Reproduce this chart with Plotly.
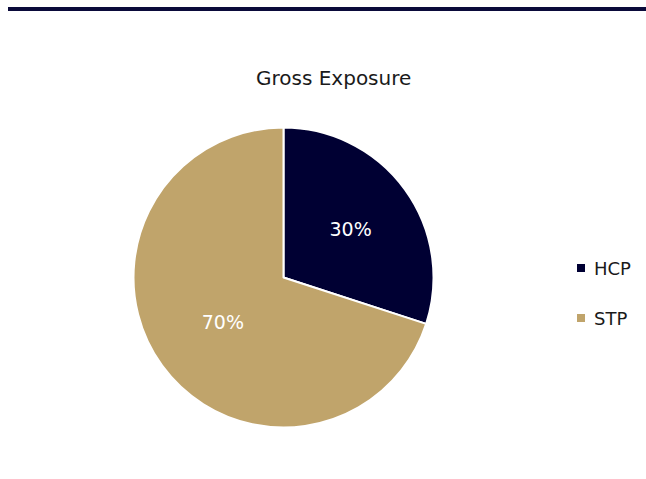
import plotly.graph_objects as go

labels = ["HCP", "STP"]
values = [30, 70]
colors = ["#000033", "#C0A46B"]
title_text = "Gross Exposure"

W, H = 646, 479
cx, cy, r = 283.5, 277.5, 150
FONT = "DejaVu Sans"

fig = go.Figure()
fig.add_trace(go.Pie(
    labels=labels,
    values=values,
    sort=False,
    direction="clockwise",
    rotation=0,
    marker=dict(colors=colors, line=dict(color="white", width=2)),
    textinfo="percent",
    texttemplate="%{percent:.0%}",
    textposition="inside",
    insidetextorientation="horizontal",
    textfont=dict(color="white", size=19, family=FONT),
    domain=dict(x=[(cx - r) / W, (cx + r) / W], y=[(H - cy - r) / H, (H - cy + r) / H]),
    hoverinfo="skip",
    showlegend=False,
))

fig.add_annotation(
    text=title_text, x=333 / W, y=1 - 78 / H, xref="paper", yref="paper",
    showarrow=False, xanchor="center", yanchor="middle",
    font=dict(size=20, color="#1a1a1a", family=FONT),
)

fig.add_shape(type="line", xref="paper", yref="paper",
              x0=8 / W, x1=1.01, y0=1 - 9 / H, y1=1 - 9 / H,
              line=dict(color="#0a0a3a", width=4))

# manual legend built from labels/colors
leg_x, leg_y0, leg_dy, sq = 581, 268, 50, 8
for i, (lab, col) in enumerate(zip(labels, colors)):
    yc = leg_y0 + i * leg_dy
    fig.add_shape(type="rect", xref="paper", yref="paper",
                  x0=(leg_x - sq / 2) / W, x1=(leg_x + sq / 2) / W,
                  y0=1 - (yc + sq / 2) / H, y1=1 - (yc - sq / 2) / H,
                  fillcolor=col, line=dict(width=0))
    fig.add_annotation(text=lab, x=592 / W, y=1 - yc / H, xref="paper", yref="paper",
                       showarrow=False, xanchor="left", yanchor="middle",
                       font=dict(size=18, color="#1a1a1a", family=FONT))

fig.update_layout(
    width=W, height=H,
    margin=dict(l=0, r=0, t=0, b=0),
    paper_bgcolor="white",
    plot_bgcolor="white",
    showlegend=False,
)

fig.write_html("out.html")
